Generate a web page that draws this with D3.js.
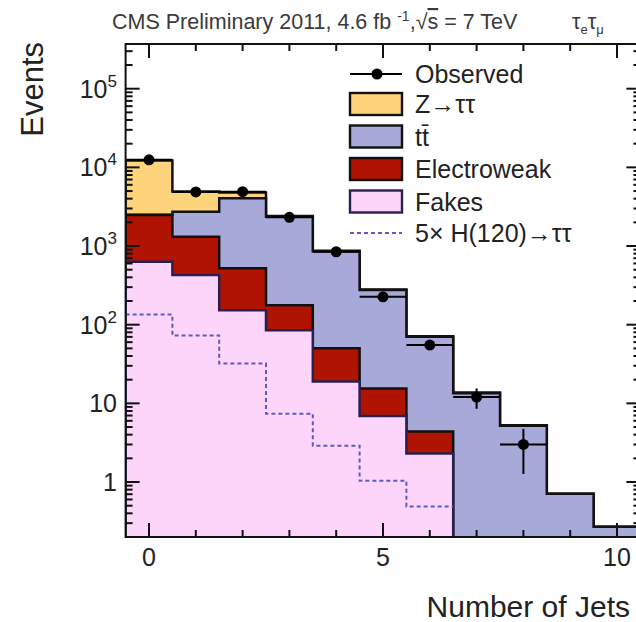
<!DOCTYPE html>
<html>
<head>
<meta charset="utf-8">
<script src="https://cdn.jsdelivr.net/npm/d3@7"></script>
<style>
  html, body { margin: 0; padding: 0; background: #fff; }
  svg { display: block; font-family: "Liberation Sans", Arial, Helvetica, sans-serif; }
</style>
</head>
<body>
<svg id="chart" width="636" height="622"></svg>
<script>
// Jet-multiplicity bins and per-process yields (stacked from the bottom up)
const jets        = [0, 1, 2, 3, 4, 5, 6, 7, 8, 9, 10];
const fakes       = [630, 427, 153, 85, 19, 6.9, 2.3, 0, 0, 0, 0];
const electroweak = [1850, 887, 367, 92, 31, 8.5, 2.1, 0, 0, 0, 0];
const ttbar       = [15, 1421, 3534, 2173, 806, 260, 66, 13.4, 5.2, 0.71, 0.27];
const ztautau     = [9700, 2185, 726, 60, 15, 5.6, 1.0, 0.3, 0.05, 0, 0];
// 5 x H(120) -> tau tau expectation, drawn unstacked
const higgs       = [135, 73, 32, 7.4, 2.9, 1.04, 0.49, 0, 0, 0, 0];
// Observed event counts
const observedJets = [0, 1, 2, 3, 4, 5, 6, 7, 8];
const observed     = [12470, 4870, 4900, 2320, 846, 226, 55, 12, 3];

const yTickValues = [1, 10, 100, 1000, 10000, 100000];
const yTickLabels = [["1", ""], ["10", ""], ["10", "2"], ["10", "3"], ["10", "4"], ["10", "5"]];
const xTickValues = [0, 5, 10];
const legendLabels = ["Observed", "Z\u2192\u03c4\u03c4", "tt\u0304", "Electroweak", "Fakes", "5\u00d7 H(120)\u2192\u03c4\u03c4"];

const colors = {
  ztt: "#fdd47c",
  tt: "#a7a9d9",
  ew: "#b01400",
  fakes: "#fdd5fb",
  higgs: "#5c5cc0",
  outline: "#111",
  fakesLine: "#2a1f4f",
  text: "#222"
};

const svg = d3.select("#chart");
const pLeft = 125.6, pRight = 640.4, pTop = 44, pBottom = 537;

const x = d3.scaleLinear().domain([-0.5, 10.5]).range([pLeft, pRight]);
const y = d3.scaleLog().domain([0.2, 3.7e5]).range([pBottom, pTop]);

// cumulative stacks
const cum = (arrs) => jets.map((_, i) => d3.sum(arrs, a => a[i]));
const cFakes = cum([fakes]);
const cEw = cum([fakes, electroweak]);
const cTt = cum([fakes, electroweak, ttbar]);
const cTotal = cum([fakes, electroweak, ttbar, ztautau]);

const yv = v => (v > 0.2 ? y(v) : pBottom + 2);

function stepPoints(vals) {
  const pts = [];
  vals.forEach((v, i) => {
    pts.push([jets[i] - 0.5, v]);
    pts.push([jets[i] + 0.5, v]);
  });
  return pts;
}

const defs = svg.append("defs");
defs.append("clipPath").attr("id", "plotClip")
  .append("rect").attr("x", pLeft).attr("y", pTop).attr("width", pRight - pLeft).attr("height", pBottom - pTop);

const plot = svg.append("g").attr("clip-path", "url(#plotClip)");

const area = d3.area().x(d => x(d[0])).y0(pBottom + 2).y1(d => yv(d[1]));
const line = d3.line().x(d => x(d[0])).y(d => yv(d[1]));

function drawStack(vals, fill, stroke) {
  const pts = stepPoints(vals);
  plot.append("path").attr("d", area(pts)).attr("fill", fill).attr("stroke", "none");
  const outline = [[pts[0][0], 0]].concat(pts).concat([[pts[pts.length - 1][0], 0]]);
  plot.append("path").attr("d", line(outline)).attr("fill", "none")
    .attr("stroke", stroke).attr("stroke-width", 2.5).attr("stroke-linejoin", "miter");
}

drawStack(cTotal, colors.ztt, colors.outline);
drawStack(cTt, colors.tt, colors.outline);
drawStack(cEw, colors.ew, colors.outline);
drawStack(cFakes, colors.fakes, colors.fakesLine);

// Higgs signal, dashed step line
const hPts = stepPoints(higgs.slice(0, 7));
plot.append("path").attr("d", line(hPts)).attr("fill", "none")
  .attr("stroke", colors.higgs).attr("stroke-width", 2).attr("stroke-dasharray", "4,3");

// Observed data with error bars
const obs = plot.append("g");
observed.forEach((n, i) => {
  const cx = x(observedJets[i]);
  const err = Math.sqrt(n);
  obs.append("line").attr("x1", x(observedJets[i] - 0.5)).attr("x2", x(observedJets[i] + 0.5))
    .attr("y1", y(n)).attr("y2", y(n)).attr("stroke", "#000").attr("stroke-width", 2);
  obs.append("line").attr("x1", cx).attr("x2", cx)
    .attr("y1", y(n + err)).attr("y2", y(Math.max(n - err, 0.21))).attr("stroke", "#000").attr("stroke-width", 2);
  obs.append("circle").attr("cx", cx).attr("cy", y(n)).attr("r", 5.5).attr("fill", "#000");
});

// Frame and ticks (drawn on all four sides, pointing inward)
const axes = svg.append("g").attr("stroke", "#111").attr("stroke-width", 2);
const xMinor = d3.range(0, 11);
xMinor.forEach(t => {
  const len = xTickValues.includes(t) ? 14 : 7;
  const px = x(t);
  axes.append("line").attr("x1", px).attr("x2", px).attr("y1", pBottom).attr("y2", pBottom - len);
  axes.append("line").attr("x1", px).attr("x2", px).attr("y1", pTop).attr("y2", pTop + len);
});
const yMinor = [];
for (let e = -1; e <= 5; e++) {
  for (let m = 1; m <= 9; m++) {
    const v = m * Math.pow(10, e);
    if (v >= 0.2 && v <= 3.7e5) yMinor.push(v);
  }
}
yMinor.forEach(v => {
  const len = yTickValues.includes(v) ? 14 : 7;
  const py = y(v);
  axes.append("line").attr("x1", pLeft).attr("x2", pLeft + len).attr("y1", py).attr("y2", py);
  axes.append("line").attr("x1", pRight).attr("x2", pRight - len).attr("y1", py).attr("y2", py);
});
axes.append("rect").attr("x", pLeft).attr("y", pTop).attr("width", pRight - pLeft).attr("height", pBottom - pTop)
  .attr("fill", "none");

// Tick labels
const xLab = svg.append("g").attr("fill", colors.text).attr("font-size", 25).attr("text-anchor", "middle");
xTickValues.forEach(t => {
  xLab.append("text").attr("x", x(t)).attr("y", 566).text(t);
});
const yLab = svg.append("g").attr("fill", colors.text).attr("font-size", 25);
yTickValues.forEach((v, i) => {
  const [base, exp] = yTickLabels[i];
  const t = yLab.append("text").attr("x", 117).attr("y", y(v) + 9).attr("text-anchor", "end");
  t.append("tspan").text(base);
  if (exp) t.append("tspan").attr("font-size", 17).attr("dy", -11).text(exp);
});

// Axis titles
svg.append("text").attr("x", 630).attr("y", 617).attr("text-anchor", "end")
  .attr("font-size", 30).attr("fill", colors.text).text("Number of Jets");
svg.append("text").attr("transform", "translate(43,42) rotate(-90)").attr("text-anchor", "end")
  .attr("font-size", 31).attr("fill", colors.text).text("Events");

// Header
const head = svg.append("text").attr("x", 112).attr("y", 29).attr("font-size", 21.5).attr("fill", "#3a3a3a");
head.append("tspan").text("CMS Preliminary 2011, 4.6 fb ");
head.append("tspan").attr("font-size", 14).attr("dy", -8).text("-1");
head.append("tspan").attr("dy", 8).text(",\u221a");
head.append("tspan").attr("text-decoration", "overline").text("s");
head.append("tspan").text(" = 7 TeV");
const chan = svg.append("text").attr("x", 572).attr("y", 29).attr("font-size", 21.5).attr("fill", "#3a3a3a");
chan.append("tspan").text("\u03c4");
chan.append("tspan").attr("font-size", 13).attr("dy", 5).text("e");
chan.append("tspan").attr("dy", -5).text("\u03c4");
chan.append("tspan").attr("font-size", 13).attr("dy", 5).text("\u03bc");

// Legend
const lg = svg.append("g");
const rowY = [74, 104, 136.5, 169, 201.5, 233];
const boxFills = [null, colors.ztt, colors.tt, colors.ew, colors.fakes, null];
legendLabels.forEach((lab, i) => {
  const cy = rowY[i];
  if (i === 0) {
    lg.append("line").attr("x1", 350).attr("x2", 402).attr("y1", cy).attr("y2", cy)
      .attr("stroke", "#000").attr("stroke-width", 2);
    lg.append("circle").attr("cx", 377).attr("cy", cy).attr("r", 5.5).attr("fill", "#000");
  } else if (i === 5) {
    lg.append("line").attr("x1", 350).attr("x2", 402).attr("y1", cy).attr("y2", cy)
      .attr("stroke", colors.higgs).attr("stroke-width", 2).attr("stroke-dasharray", "4,3");
  } else {
    lg.append("rect").attr("x", 350).attr("y", cy - 11).attr("width", 52).attr("height", 22)
      .attr("fill", boxFills[i]).attr("stroke", i === 4 ? colors.fakesLine : colors.outline).attr("stroke-width", 2.4);
  }
  lg.append("text").attr("x", 415).attr("y", cy).attr("dy", "0.36em")
    .attr("font-size", 25).attr("fill", colors.text).text(lab);
});
</script>
</body>
</html>
